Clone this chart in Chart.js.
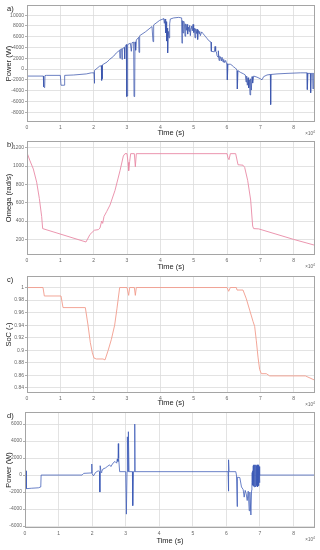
<!DOCTYPE html>
<html>
<head>
<meta charset="utf-8">
<script src="https://cdn.jsdelivr.net/npm/chart.js@4.4.1/dist/chart.umd.min.js"></script>
<style>
  body { margin: 0; background: #fff; }
  #wrap { position: relative; width: 320px; height: 550px; }
  .panel { position: absolute; left: 0; width: 320px; }
</style>
</head>
<body>
<div id="wrap">
  <div class="panel" style="top:0;height:137px"><canvas id="chartA"></canvas></div>
  <div class="panel" style="top:137px;height:135px"><canvas id="chartB"></canvas></div>
  <div class="panel" style="top:272px;height:136px"><canvas id="chartC"></canvas></div>
  <div class="panel" style="top:408px;height:142px"><canvas id="chartD"></canvas></div>
</div>
<script>
'use strict';

// tick positions (time axis shown in units of 10^4 s)
const timeTicks = [0, 10000, 20000, 30000, 40000, 50000, 60000, 70000, 80000];
const powerTicksA = [-8000, -6000, -4000, -2000, 0, 2000, 4000, 6000, 8000, 10000];
const omegaTicks = [200, 400, 600, 800, 1000, 1200];
const socTicks = [0.84, 0.86, 0.88, 0.9, 0.92, 0.94, 0.96, 0.98, 1];
const powerTicksD = [-6000, -4000, -2000, 0, 2000, 4000, 6000];

// a) power (W) over one day, time in s
const tA = [0, 4900, 5000, 5300, 5400, 5800, 10000, 10200, 11200, 11300, 14000, 17800, 19300, 20100, 20200, 20300,
  21800, 22300, 22400, 22500, 22600, 22700, 24000, 24800, 26000, 26800, 27800, 27900, 28000, 28400, 28500, 28600,
  29200, 29300, 29400, 29800, 29900, 30100, 30200, 31000, 31300, 31500, 32000, 32100, 32300, 32400, 32600, 32800,
  33500, 33600, 33800, 35500, 37500, 37800, 38000, 39800, 40800, 41000, 41200, 41400, 41600, 41800, 41900, 42100,
  42200, 42400, 42600, 42800, 43000, 44000, 45500, 46400, 46500, 46600, 46800, 47000, 47200, 47400, 47600, 47800,
  48000, 48200, 48400, 48600, 48800, 49000, 49200, 49400, 49600, 49800, 50000, 50200, 50400, 50600, 50800, 51000,
  51200, 51400, 51600, 51800, 52000, 52400, 52800, 53200, 53600, 54000, 54500, 55200, 55300, 56200, 56400, 56600,
  56800, 57000, 57300, 57400, 57600, 57800, 58000, 58300, 58500, 58800, 59000, 59300, 59600, 59900, 60000, 60100,
  60300, 61000, 61500, 62000, 62500, 62800, 63000, 63100, 63300, 64000, 65000, 65500, 65700, 65900, 66100, 66300,
  66500, 66700, 66900, 67100, 67300, 67500, 67700, 68000, 69000, 70000, 70500, 71000, 72000, 73000, 73100, 73200,
  75000, 78000, 82000, 84000, 84100, 84300, 85000, 85100, 85300, 85700, 85800, 85900, 86300, 86400];
const pA = [-1300, -1300, -3300, -3450, -1200, -1170, -1170, -3000, -3000, -1170, -1100, -900, -700, -700, -2650, -250,
  550, 600, -2100, 700, -1800, 800, 1300, 1800, 2400, 3000, 3500, 2000, 3650, 3750, 1800, 3800,
  4000, 1900, 4100, 4550, -5100, -5000, 4550, 4800, 3300, 4900, 5000, -5100, -5000, 5050, 3500, 5400,
  5900, 3100, 6200, 6900, 7900, 5100, 8200, 9050, 9300, 9400, 8500, 9300, 6700, 8800, 5200, 7600,
  3000, 7000, 5800, 8400, 9300, 9500, 9600, 9500, 4800, 9000, 6700, 8900, 8500, 6100, 8400, 7200,
  8300, 6500, 7800, 7000, 8100, 6200, 7600, 8000, 7100, 8300, 6800, 7600, 5800, 7500, 6600, 7400,
  5500, 7200, 6600, 7000, 6200, 6900, 6600, 6300, 6000, 5700, 5300, 5000, 3300, 3200, 4200, 3300,
  3200, 2500, 2200, 3400, 1600, 2400, 2300, 1500, 2200, 1300, 1800, 1200, 1600, 1000, 1000, -2000,
  900, 900, 700, 400, 200, 0, -300, -3700, -300, -600, -900, -1100, -2400, -1300, -3000, -1600,
  -3500, -2000, -4800, -1800, -3900, -1400, -2600, -1300, -1500, -1800, -2000, -1400, -1100, -1000, -6600, -1000,
  -900, -800, -700, -700, -3800, -800, -800, -4400, -800, -800, -3700, -800, -800, -7600];

// b) omega (rad/s)
const tB = [0, 900, 1900, 2900, 3700, 4400, 4700, 17700, 18900, 20200, 21400, 21900, 22400, 22700, 23100, 23900,
  24900, 26400, 27900, 28900, 29400, 30000, 30300, 30500, 30800, 31100, 32200, 32500, 32800, 60000, 60300, 60600,
  61000, 62600, 63300, 64800, 65300, 66200, 67100, 67700, 68000, 69500, 80000, 86400];
const omegaB = [1146, 1057, 968, 825, 647, 450, 318, 172, 255, 300, 307, 325, 400, 375, 450, 504,
  575, 735, 950, 1110, 1136, 1136, 1040, 950, 1050, 1136, 1136, 993, 1136, 1136, 1090, 1070,
  1136, 1136, 1015, 1010, 986, 845, 630, 345, 318, 315, 200, 136];

// c) state of charge (-)
const tC = [0, 4800, 5200, 10200, 10800, 17500, 18300, 19000, 19600, 20100, 20800, 22800, 23400, 24300, 25300, 26300,
  27000, 27800, 30000, 30500, 30800, 32200, 32500, 32800, 60000, 60500, 61000, 62800, 63000, 64800, 65800, 66800,
  67800, 68300, 68800, 69300, 69800, 70300, 71800, 72800, 83500, 86400];
const socC = [1, 1, 0.9865, 0.9865, 0.968, 0.968, 0.94, 0.912, 0.896, 0.8875, 0.886, 0.886, 0.8845, 0.899, 0.917, 0.94,
  0.967, 1, 1, 0.9875, 1, 1, 0.9875, 1, 1, 0.994, 1, 1, 0.996, 0.996, 0.982, 0.964,
  0.946, 0.938, 0.915, 0.889, 0.869, 0.8625, 0.8625, 0.859, 0.859, 0.852];

// d) power (W)
const tD = [0, 300, 400, 2000, 4000, 4700, 4800, 17000, 17500, 19800, 19900, 20000, 20400, 21000, 21800, 22200,
  22300, 22400, 22700, 22900, 23200, 24000, 24500, 25200, 25600, 26200, 26800, 27300, 27500, 27700, 27800, 27900,
  28200, 30000, 30200, 30400, 30500, 30700, 30800, 31000, 32000, 32100, 32300, 32600, 32700, 32800, 60500, 60600,
  60700, 60800, 62800, 63000, 63200, 63300, 64000, 64500, 65000, 65300, 65600, 65900, 66200, 66500, 66800, 67000,
  67300, 67500, 67600, 67680, 67760, 67840, 67920, 68000, 68080, 68160, 68240, 68320, 68400, 68480, 68560, 68640,
  68720, 68800, 68880, 68960, 69040, 69120, 69200, 69280, 69360, 69440, 69520, 69600, 69680, 69760, 69840, 69900,
  70000, 86400];
const pD = [500, 500, -1600, -1550, -1500, -1400, 0, 0, 200, 250, 1300, 150, -100, 300, 500, 400,
  -2000, 1100, 300, 450, 700, 850, 1000, 1200, 1000, 1400, 1600, 1400, 1900, 1600, 3700, 2000,
  400, 400, -4600, 400, 4500, 400, 5100, 400, 400, -3600, 400, 400, 6000, 400, 400, -1900,
  1800, 400, 400, 0, -3700, -250, -300, -1400, -1700, -2600, -1800, -2200, -3000, -1900, -4200, -2000,
  -4700, -1800, -900, 300, -1000, 500, -1200, 1100, -1300, 1200, -1400, 1100, -1300, 1200, -1200, 1100,
  -1400, 1200, -1300, 1100, -1200, 1200, -1300, 1100, -1400, 1200, -1300, 1100, -1200, 1000, -900, 600,
  0, 0];

Chart.defaults.font.family = '"Liberation Sans", Arial, sans-serif';
Chart.defaults.animation = false;

// box around the plot, panel letter and the x10^4 exponent label
const panelDecor = {
  id: 'panelDecor',
  afterDraw(chart, args, opts) {
    const { ctx, chartArea } = chart;
    ctx.save();
    ctx.strokeStyle = '#a5a5a5';
    ctx.lineWidth = 1;
    ctx.strokeRect(chartArea.left + 0.5, chartArea.top + 0.5, chartArea.width - 1, chartArea.height - 1);

    ctx.fillStyle = '#222';
    ctx.font = '7.5px "Liberation Sans", Arial, sans-serif';
    ctx.textBaseline = 'middle';
    ctx.textAlign = 'left';
    ctx.fillText(opts.label, 7, chartArea.top + 4);

    ctx.fillStyle = '#666';
    ctx.textAlign = 'right';
    ctx.font = '4.5px "Liberation Sans", Arial, sans-serif';
    ctx.fillText('\u00d710', chartArea.right - 2, chartArea.bottom + 12);
    ctx.font = '3.5px "Liberation Sans", Arial, sans-serif';
    ctx.fillText('4', chartArea.right, chartArea.bottom + 10.5);
    ctx.restore();
  }
};

function makeChart(id, t, v, cfg) {
  const points = t.map((x, i) => ({ x: x, y: v[i] }));
  return new Chart(id, {
    type: 'line',
    data: {
      datasets: [{
        data: points,
        borderColor: cfg.color,
        borderWidth: cfg.lineWidth,
        borderJoinStyle: 'round',
        pointRadius: 0,
        tension: 0,
        fill: false
      }]
    },
    options: {
      responsive: true,
      maintainAspectRatio: false,
      layout: { padding: { top: cfg.padTop, right: 5, left: 0, bottom: 0 } },
      plugins: {
        legend: { display: false },
        tooltip: { enabled: false },
        panelDecor: { label: cfg.label }
      },
      scales: {
        x: {
          type: 'linear',
          min: 0,
          max: 86400,
          afterBuildTicks: s => { s.ticks = timeTicks.map(val => ({ value: val })); },
          afterFit: s => { s.height = cfg.xAxisH; },
          grid: { color: '#dcdcdc', lineWidth: 0.8, drawTicks: false },
          border: { display: false },
          ticks: {
            autoSkip: false,
            maxRotation: 0,
            padding: 2.5,
            color: '#666',
            font: { size: 5 },
            callback: val => String(val / 10000)
          },
          title: {
            display: true,
            text: 'Time (s)',
            color: '#222',
            font: { size: 7.5, lineHeight: 1 },
            padding: { top: 0, bottom: cfg.titlePad }
          }
        },
        y: {
          min: cfg.yMin,
          max: cfg.yMax,
          afterBuildTicks: s => { s.ticks = cfg.ticks.map(val => ({ value: val })); },
          afterFit: s => { s.width = cfg.yAxisW; },
          grid: { color: '#dcdcdc', lineWidth: 0.8, tickLength: 2, tickColor: '#999' },
          border: { display: false },
          ticks: {
            autoSkip: false,
            padding: 1,
            color: '#666',
            font: { size: 5 },
            callback: cfg.tickFmt
          },
          title: {
            display: true,
            text: cfg.yTitle,
            color: '#222',
            font: { size: 7.5, lineHeight: 1 },
            padding: { top: 5, bottom: 0 }
          }
        }
      }
    },
    plugins: [panelDecor]
  });
}

makeChart('chartA', tA, pA, {
  label: 'a)', color: '#3b55ad', lineWidth: 0.75, yTitle: 'Power (W)', ticks: powerTicksA,
  yMin: -9830, yMax: 11900, tickFmt: val => String(val),
  padTop: 5, xAxisH: 15, yAxisW: 27, titlePad: 0
});

makeChart('chartB', tB, omegaB, {
  label: 'b)', color: '#e98aa6', lineWidth: 0.9, yTitle: 'Omega (rad/s)', ticks: omegaTicks,
  yMin: 30, yMax: 1274, tickFmt: val => String(val),
  padTop: 1, xAxisH: 17, yAxisW: 27, titlePad: 1
});

makeChart('chartC', tC, socC, {
  label: 'c)', color: '#f29c8c', lineWidth: 0.9, yTitle: 'SoC (-)', ticks: socTicks,
  yMin: 0.8317, yMax: 1.0184, tickFmt: val => String(+val.toFixed(2)),
  padTop: 2, xAxisH: 15, yAxisW: 27, titlePad: 1
});

makeChart('chartD', tD, pD, {
  label: 'd)', color: '#3a58b5', lineWidth: 0.75, yTitle: 'Power (W)', ticks: powerTicksD,
  yMin: -6230, yMax: 7420, tickFmt: val => String(val),
  padTop: 2, xAxisH: 22, yAxisW: 25, titlePad: 5
});
</script>
</body>
</html>
